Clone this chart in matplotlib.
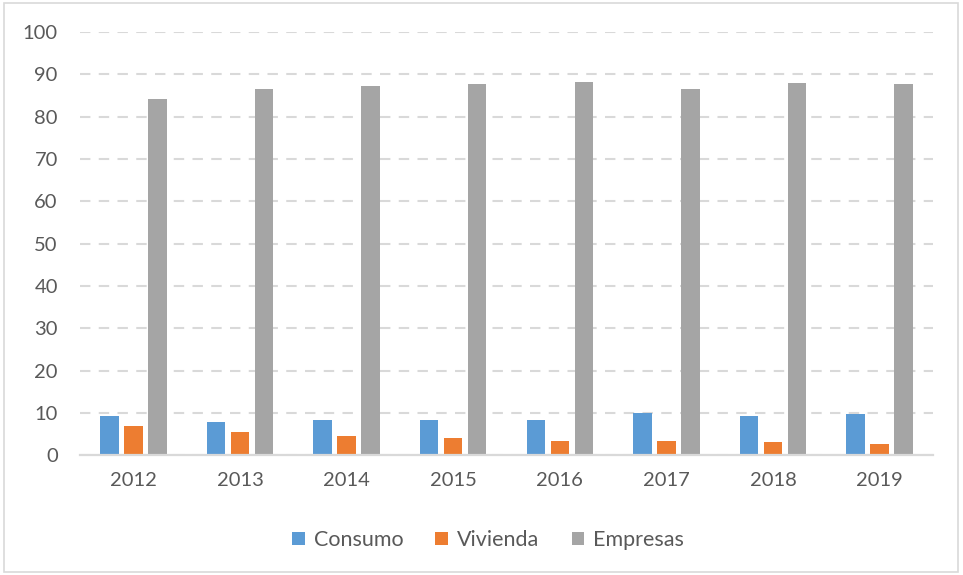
import matplotlib
matplotlib.use("Agg")
import matplotlib.pyplot as plt
import numpy as np
from matplotlib.patches import Rectangle

years = ["2012", "2013", "2014", "2015", "2016", "2017", "2018", "2019"]
consumo = [9.4, 7.8, 8.4, 8.4, 8.4, 10.0, 9.4, 9.7]
vivienda = [6.9, 5.6, 4.6, 4.0, 3.4, 3.4, 3.1, 2.7]
empresas = [84.2, 86.6, 87.3, 87.6, 88.2, 86.6, 87.9, 87.6]
series_names = ["Consumo", "Vivienda", "Empresas"]
colors = ["#5B9BD5", "#ED7D31", "#A5A5A5"]
yticks = list(range(0, 101, 10))

plt.rcParams['font.family'] = ['Lato', 'DejaVu Sans']

fig = plt.figure(figsize=(9.63, 5.75), dpi=100)
ax = fig.add_axes([80/963, 1-455.3/575, 853/963, (455.3-32)/575])

x = np.arange(len(years))
w = 0.173
step = 0.225
for i, (vals, name, c) in enumerate(zip([consumo, vivienda, empresas], series_names, colors)):
    ax.bar(x + (i-1)*step, vals, width=w, color=c, label=name, zorder=3)

ax.set_xlim(-0.5, len(years)-0.5)
ax.set_ylim(0, 100)
ax.set_yticks(yticks)
ax.set_xticks(x)
ax.set_xticklabels(years)
ax.tick_params(axis='both', length=0, labelsize=14.5, colors="#595959")
ax.tick_params(axis='y', pad=16)
ax.tick_params(axis='x', pad=12)
ax.yaxis.grid(True, color="#D9D9D9", linewidth=1.5, linestyle=(0, (5, 4)), zorder=0)
for s in ["top", "right", "left"]:
    ax.spines[s].set_visible(False)
ax.spines["bottom"].set_color("#D9D9D9")
ax.spines["bottom"].set_linewidth(1.6)
ax.spines["bottom"].set_zorder(4)

leg = fig.legend(loc="center", bbox_to_anchor=(488/963, 1-540/575), ncol=3, frameon=False,
                 fontsize=15.5, handlelength=0.6, handleheight=0.6, handletextpad=0.4,
                 columnspacing=1.5)
for t in leg.get_texts():
    t.set_color("#595959")

fig.patches.append(Rectangle((4/963, 3/575), 954/963, 569/575, transform=fig.transFigure,
                             fill=False, edgecolor="#D9D9D9", linewidth=1.2))

fig.savefig("out.png", dpi=100)
